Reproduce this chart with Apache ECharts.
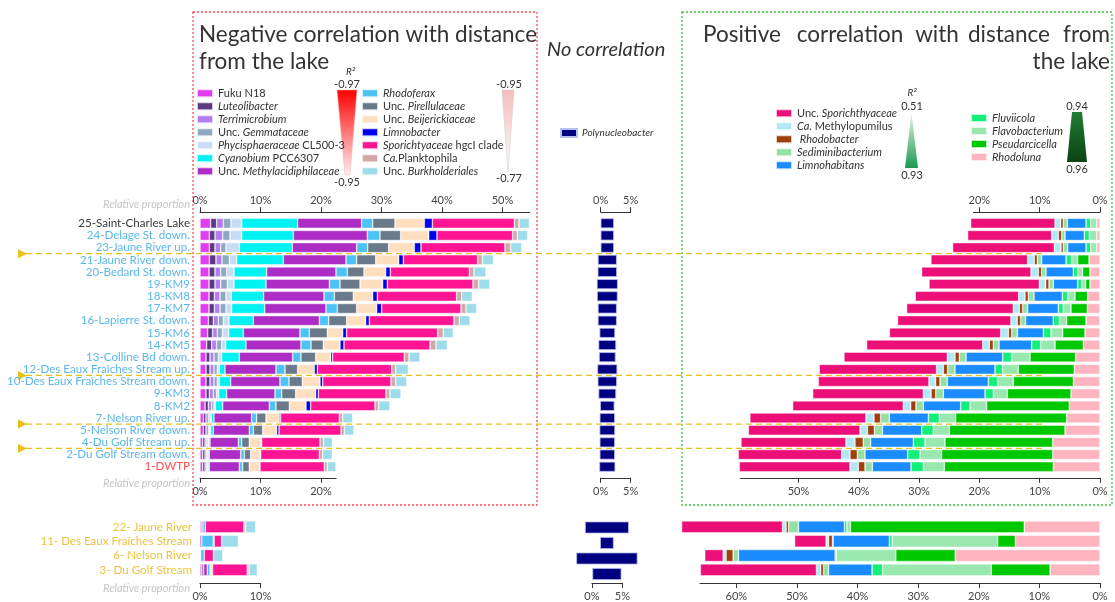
<!DOCTYPE html>
<html><head><meta charset="utf-8">
<script src="https://cdn.jsdelivr.net/npm/echarts@6/dist/echarts.min.js"></script>
<style>html,body{margin:0;padding:0;background:#fff}#c{width:1115px;height:602px}</style>
</head><body><div id="c"></div>
<script>
// ---------------- DATA ----------------
const mainSites = ['25-Saint-Charles Lake','24-Delage St. down.','23-Jaune River up.','21-Jaune River down.','20-Bedard St. down.','19-KM9','18-KM8','17-KM7','16-Lapierre St. down.','15-KM6','14-KM5','13-Colline Bd down.','12-Des Eaux Fraîches Stream up.','10-Des Eaux Fraîches Stream down.','9-KM3','8-KM2','7-Nelson River up.','5-Nelson River down.','4-Du Golf Stream up.','2-Du Golf Stream down.','1-DWTP'];
const tribSites = ['22- Jaune River','11- Des Eaux Fraîches Stream','6- Nelson River','3- Du Golf Stream'];

// negative correlation taxa (main sites, then tributaries)
const fukuN18 = [1.76,1.54,1.54,1.54,1.49,1.49,1.49,1.49,1.38,1.27,1.10,0.99,0.99,0.99,0.99,0.83,0.55,0.55,0.44,0.44,0.44];
const fukuN18Trib = [0.2,0,0,0.3];
const luteolibacter = [0.99,0.94,0.94,1.10,0.99,0.99,0.88,0.88,0.82,0.82,0.83,0.66,0.66,0.66,0.55,0.55,0.44,0.44,0.39,0.39,0.39];
const luteolibacterTrib = [0,0,0,0.3];
const terrimicrobium = [1.11,1.27,0.94,1.00,0.94,0.94,0.94,0.94,0.83,0.77,0.82,0.66,0.66,0.66,0.66,0.55,0.39,0.39,0.27,0.27,0.27];
const terrimicrobiumTrib = [0,0,0,0];
const gemmataceae = [1.26,1.21,0.88,1.21,0.99,1.10,0.99,0.99,0.83,0.83,0.83,0.72,0.55,0.55,0.55,0.38,0.27,0.16,0.22,0.17,0.17];
const gemmataceaeTrib = [0,0,0,0];
const cl5003 = [1.77,1.93,2.20,1.21,1.21,1.10,0.88,0.93,0.93,1.05,0.66,0.55,0.34,0.34,0.34,0.22,0.22,0.22,0.11,0.11,0.11];
const cl5003Trib = [0,0,0,0];
const cyanobium = [9.25,8.54,8.76,7.71,5.40,5.29,5.34,5.46,4.03,2.42,3.36,2.92,0.93,1.87,1.32,1.22,0.44,0.44,0.22,0.16,0.16];
const cyanobiumTrib = [0,0,0,0];
const methylacidiphilaceae = [10.58,12.23,10.64,10.36,11.46,10.47,9.98,10.14,10.91,9.37,9.09,8.82,8.43,8.15,7.99,7.71,6.23,5.95,4.69,5.18,4.96];
const methylacidiphilaceaeTrib = [0.27,0.3,0.1,0.6];
const rhodoferax = [1.82,2.09,1.81,1.77,1.87,1.76,1.70,1.87,1.54,1.54,1.66,1.37,1.49,1.49,1.10,1.10,0.83,0.67,0.55,0.61,0.55];
const rhodoferaxTrib = [0.41,1.89,0.6,0.47];
const pirellulaceae = [3.69,3.42,3.47,3.14,2.76,3.31,3.14,3.20,2.97,2.98,2.04,2.43,2.09,2.20,2.31,2.21,1.54,1.54,1.26,1.04,1.10];
const pirellulaceaeTrib = [0,0.15,0,0];
const beijerickiaceae = [4.85,4.63,4.25,3.80,3.58,3.74,3.20,3.30,3.14,2.53,2.75,2.48,2.76,2.92,3.31,2.75,2.20,2.31,1.93,1.55,1.66];
const beijerickiaceaeTrib = [0,0,0,0.41];
const limnobacter = [1.32,1.37,1.10,0.77,0.77,0.77,0.77,0.83,0.61,0.66,0.66,0.33,0.49,0.45,0.44,0.77,0.22,0.39,0.11,0.11,0.11];
const limnobacterTrib = [0,0,0,0];
const hgcI = [13.56,12.51,13.88,12.29,13.06,14.16,13.11,13.11,13.99,15.04,14.22,11.84,12.29,11.29,11.18,10.64,9.70,10.25,9.64,9.69,10.63];
const hgcITrib = [6.38,1.24,1.53,5.73];
const planktophila = [0.77,0.77,0.94,0.77,0.77,0.94,0.83,0.83,0.89,0.94,0.99,0.78,0.66,0.77,0.66,0.60,0.55,0.55,0.56,0.56,0.50];
const planktophilaTrib = [0.3,0,0,0.3];
const burkholderiales = [1.71,1.71,1.82,1.81,1.98,1.87,1.76,1.76,1.76,1.65,1.87,1.81,2.10,1.82,1.82,1.87,1.65,1.59,1.48,1.59,1.43];
const burkholderialesTrib = [1.65,2.77,1.53,1.36];

// no correlation
const polynucleobacter = [2.22,2.22,2.22,3.17,3.22,3.5,3.45,3.17,3.17,2.6,2.95,2.78,3.33,3.22,2.95,2.39,2.55,2.6,2.55,2.55,2.67];
const polynucleobacterTrib = [7.2,2.24,10.05,4.77];

// positive correlation taxa
const rhodoluna = [0.55,0.55,0.55,1.82,1.66,1.66,2.05,2.10,2.32,2.49,2.76,4.04,4.26,4.42,4.81,5.09,5.53,5.80,7.85,7.85,7.74];
const rhodolunaTrib = [12.5,13.96,23.89,8.24];
const pseudarcicella = [0,0,0,1.88,1.22,0.72,2.10,2.71,3.21,3.70,4.70,7.57,9.29,9.95,10.56,13.71,18.41,19.18,17.86,18.41,18.08];
const pseudarcicellaTrib = [28.68,2.92,9.81,9.70];
const flavobacterium = [1.0,1.22,1.0,1.0,0.83,0.66,1.22,1.27,1.22,1.93,2.38,3.04,2.60,2.60,2.32,2.76,2.71,2.65,3.32,3.59,3.48];
const flavobacteriumTrib = [0.58,17.41,9.81,17.93];
const fluviicola = [0.77,0.83,0.77,0.94,0.72,0.66,0.88,0.83,1.0,1.27,1.49,1.49,1.27,1.55,1.38,1.55,1.82,1.93,1.93,2.05,2.05];
const fluviicolaTrib = [0.41,0.47,0.2,1.75];
const limnohabitans = [3.10,3.21,3.04,4.04,4.53,4.04,4.70,5.09,4.59,4.31,5.42,6.08,6.63,6.80,6.91,6.19,6.47,6.52,7.08,7.08,6.41];
const limnohabitansTrib = [7.59,9.29,15.95,7.18];
const sediminibacterium = [0.66,0.55,0.72,0.72,0.72,0.72,0.94,0.83,0.83,0.94,0.94,1.11,1.22,1.22,1.27,1.22,1.44,1.33,1.22,1.27,1.22];
const sediminibacteriumTrib = [1.64,0.1,0.88,0.82];
const rhodobacter = [0.44,0.55,0.39,0.5,0.55,0.55,0.55,0.55,0.55,0.55,0.66,0.72,0.72,0.72,0.77,0.88,1.11,1.16,1.38,1.22,1.11];
const rhodobacterTrib = [0.41,0.64,1.17,0.47];
const methylopumilus = [0.94,1.11,1.11,1.11,1.22,1.05,1.05,1.0,1.05,1.27,1.11,1.27,1.11,1.11,1.27,1.22,1.33,1.22,1.49,1.38,1.38];
const methylopumilusTrib = [0.58,0.41,0.47,0.7];
const sporichthyaceae = [13.99,13.93,16.86,16.03,18.13,18.30,17.14,17.69,18.80,18.46,19.24,17.14,19.46,18.35,18.35,18.35,19.24,18.52,17.41,17.14,18.35];
const sporichthyaceaeTrib = [16.65,5.2,3.04,19.16];

// ---------------- TAXA LISTS ----------------
const negNames = ['Fuku N18','Luteolibacter','Terrimicrobium','Unc. Gemmataceae','Phycisphaeraceae CL500-3','Cyanobium PCC6307','Unc. Methylacidiphilaceae','Rhodoferax','Unc. Pirellulaceae','Unc. Beijerickiaceae','Limnobacter','Sporichtyaceae hgcI clade','Ca.Planktophila','Unc. Burkholderiales'];
const negMain = [fukuN18,luteolibacter,terrimicrobium,gemmataceae,cl5003,cyanobium,methylacidiphilaceae,rhodoferax,pirellulaceae,beijerickiaceae,limnobacter,hgcI,planktophila,burkholderiales];
const negTrib = [fukuN18Trib,luteolibacterTrib,terrimicrobiumTrib,gemmataceaeTrib,cl5003Trib,cyanobiumTrib,methylacidiphilaceaeTrib,rhodoferaxTrib,pirellulaceaeTrib,beijerickiaceaeTrib,limnobacterTrib,hgcITrib,planktophilaTrib,burkholderialesTrib];
const negColors = ['#e03cf0','#5a3a80','#b27cf2','#8fa8c2','#c8dcf4','#00f2f2','#ad2cc6','#4cc3f5','#6a7a8a','#ffdfc0','#0000ee','#ff1493','#d2a8a6','#9ddcea'];

// stacking order from 0% outward
const posNames = ['Rhodoluna','Pseudarcicella','Flavobacterium','Fluviicola','Limnohabitans','Sediminibacterium','Rhodobacter','Ca. Methylopumilus','Unc. Sporichthyaceae'];
const posMain = [rhodoluna,pseudarcicella,flavobacterium,fluviicola,limnohabitans,sediminibacterium,rhodobacter,methylopumilus,sporichthyaceae];
const posTrib = [rhodolunaTrib,pseudarcicellaTrib,flavobacteriumTrib,fluviicolaTrib,limnohabitansTrib,sediminibacteriumTrib,rhodobacterTrib,methylopumilusTrib,sporichthyaceaeTrib];
const posColors = ['#ffb5c0','#00c800','#98e8b0','#14ef7a','#1a8cff','#94e0a4','#a03e0c','#b0e8f6','#ec0f78'];

const legendLabels = {
  'Luteolibacter':'{i|Luteolibacter}','Terrimicrobium':'{i|Terrimicrobium}','Unc. Gemmataceae':'Unc. {i|Gemmataceae}',
  'Phycisphaeraceae CL500-3':'{i|Phycisphaeraceae} CL500-3','Cyanobium PCC6307':'{i|Cyanobium} PCC6307',
  'Unc. Methylacidiphilaceae':'Unc. {i|Methylacidiphilaceae}','Rhodoferax':'{i|Rhodoferax}','Unc. Pirellulaceae':'Unc. {i|Pirellulaceae}',
  'Unc. Beijerickiaceae':'Unc. {i|Beijerickiaceae}','Limnobacter':'{i|Limnobacter}','Sporichtyaceae hgcI clade':'{i|Sporichtyaceae} hgcI clade',
  'Ca.Planktophila':'{i|Ca.}Planktophila','Unc. Burkholderiales':'Unc. {i|Burkholderiales}','Polynucleobacter':'{i|Polynucleobacter}',
  'Unc. Sporichthyaceae':'Unc. {i|Sporichthyaceae}','Ca. Methylopumilus':'{i|Ca.} Methylopumilus','Rhodobacter':' {i|Rhodobacter}',
  'Sediminibacterium':'{i|Sediminibacterium}','Limnohabitans':'{i|Limnohabitans}','Fluviicola':'{i|Fluviicola}',
  'Flavobacterium':'{i|Flavobacterium}','Pseudarcicella':'{i|Pseudarcicella}','Rhodoluna':'{i|Rhodoluna}'
};

// ---------------- LAYOUT ----------------
const FONT = 'Lato';
const PXL = 6.05, PXM = 6.0, PXR = 6.03, PXBM = 6.1, PXBR = 6.06;
const MT = 217.2, MH = 255.6, BT = 519.75, BH = 62;
const g = (left, top, width, height) => ({left, top, width, height, containLabel:false});
const grids = [
  g(200, MT, 54.5*PXL, MH),
  g(200, MT, 22.5*PXL, MH),
  g(607.3-5*PXM, MT, 10*PXM, MH),
  g(600.7, MT, 5*PXM, MH),
  g(1100-59.6*PXR, MT, 59.6*PXR, MH),
  g(1100-21*PXR, MT, 21*PXR, MH),
  g(200, BT, 10*PXL, BH),
  g(606.9-6*PXBM, BT, 12*PXBM, BH),
  g(591.9, BT, 5*PXBM, BH),
  g(1100-66*PXBR, BT, 66*PXBR, BH)
];
const aLine = {show:true, onZero:false, lineStyle:{color:'#333', width:1}};
const aTick = {show:true, length:5, lineStyle:{color:'#333'}};
const aLabel = (m, showMax) => ({fontFamily:FONT, fontSize:11, color:'#444', margin:m, formatter:'{value}%', showMaxLabel:showMax, showMinLabel:true});
const vx = (gi, pos, min, max, interval, inverse, offset, showMax) => ({
  gridIndex:gi, type:'value', position:pos, offset:offset, min, max, interval, inverse:!!inverse,
  axisLine:aLine, axisTick:aTick, axisLabel:aLabel(pos==='top'?6:8, showMax), splitLine:{show:false}
});
const hx = (gi, min, max, inverse) => ({gridIndex:gi, type:'value', min, max, inverse:!!inverse, show:false});
const xAxes = [
  vx(0,'top',0,54.5,10,false,5,false),
  vx(1,'bottom',0,22.5,10,false,5,false),
  hx(2,-5,5),
  vx(3,'top',0,5,5,false,5,true),
  vx(3,'bottom',0,5,5,false,5,true),
  vx(4,'bottom',0,59.6,10,true,5,false),
  vx(5,'top',0,21,10,true,5,false),
  vx(6,'bottom',0,10,10,false,6,true),
  hx(7,-6,6),
  vx(8,'bottom',0,5,5,false,6,true),
  vx(9,'bottom',0,66,10,true,6,false)
];
const hy = (gi, data) => ({gridIndex:gi, type:'category', data, inverse:true, show:false});
const yAxes = [
  {gridIndex:0, type:'category', data:mainSites, inverse:true, axisLine:{show:false}, axisTick:{show:false},
   axisLabel:{interval:0, fontFamily:FONT, fontSize:11.6, margin:10,
     color:(v,i)=> i===0 ? '#3a3a3a' : (i===mainSites.length-1 ? '#ff4f4f' : '#5cb8ec')}},
  hy(1,mainSites), hy(2,mainSites), hy(3,mainSites), hy(4,mainSites), hy(5,mainSites),
  {gridIndex:6, type:'category', data:tribSites, inverse:true, axisLine:{show:false}, axisTick:{show:false},
   axisLabel:{interval:0, fontFamily:FONT, fontSize:11.6, margin:8, color:'#e9c53e'}},
  hy(7,tribSites), hy(8,tribSites), hy(9,tribSites)
];

const nz = v => (v === 0 ? null : v);
const series = [];
const bStyle = (c) => ({color:c, borderColor:'rgba(255,255,255,0.75)', borderWidth:0.6});
negNames.forEach((n,i) => {
  series.push({type:'bar', name:n, xAxisIndex:0, yAxisIndex:0, stack:'negMain', barWidth:10, data:negMain[i].map(nz), itemStyle:bStyle(negColors[i])});
  series.push({type:'bar', name:n, xAxisIndex:7, yAxisIndex:6, stack:'negTrib', barWidth:12, data:negTrib[i].map(nz), itemStyle:bStyle(negColors[i])});
});
posNames.forEach((n,i) => {
  series.push({type:'bar', name:n, xAxisIndex:5, yAxisIndex:4, stack:'posMain', barWidth:10, clip:false, data:posMain[i].map(nz), itemStyle:bStyle(posColors[i])});
  series.push({type:'bar', name:n, xAxisIndex:10, yAxisIndex:9, stack:'posTrib', barWidth:12, clip:false, data:posTrib[i].map(nz), itemStyle:bStyle(posColors[i])});
});
const polyStyle = {color:'#000080', borderColor:'#b8c0ee', borderWidth:0.8};
[[polynucleobacter,2,2,10,'polyM'],[polynucleobacterTrib,8,7,12,'polyT']].forEach(([d,xi,yi,bw,st]) => {
  series.push({type:'bar', name:'_base_'+st, xAxisIndex:xi, yAxisIndex:yi, stack:st, stackStrategy:'all', barWidth:bw, silent:true,
    data:d.map(v => -v/2), itemStyle:{color:'rgba(0,0,0,0)'}});
  series.push({type:'bar', name:'Polynucleobacter', xAxisIndex:xi, yAxisIndex:yi, stack:st, stackStrategy:'all', barWidth:bw,
    data:d, itemStyle:polyStyle});
});

const legBase = (data, left, top) => ({
  data, left, top, orient:'vertical', itemWidth:16, itemHeight:8, itemGap:0, padding:0, icon:'rect', selectedMode:false,
  formatter: n => legendLabels[n] || n,
  textStyle:{fontFamily:FONT, fontSize:11, color:'#333', lineHeight:13,
    rich:{i:{fontStyle:'italic', fontFamily:FONT, fontSize:11, color:'#333', lineHeight:13}}}
});
const legends = [
  legBase(negNames.slice(0,7), 196, 86.8),
  legBase(negNames.slice(7), 361, 86.8),
  legBase(['Polynucleobacter'], 560, 126.5),
  legBase(['Unc. Sporichthyaceae','Ca. Methylopumilus','Rhodobacter','Sediminibacterium','Limnohabitans'], 775, 106.8),
  legBase(['Fluviicola','Flavobacterium','Pseudarcicella','Rhodoluna'], 970, 111.5)
];
legends[2].textStyle.fontSize = 10; legends[2].textStyle.rich.i.fontSize = 10;

const LG = echarts.graphic.LinearGradient;
const TF = '22.5px Lato';
const txt = (text, x, y, font, fill, align) => ({type:'text', silent:true, style:{text, x, y, font, fill:fill||'#333', textAlign:align||'left', textVerticalAlign:'middle'}});
const graphics = [
  {type:'rect', silent:true, shape:{x:193,y:12,width:344,height:493}, style:{fill:'none', stroke:'#ff4a4a', lineWidth:1.3, lineDash:[2,2]}},
  {type:'rect', silent:true, shape:{x:682,y:12,width:430,height:493}, style:{fill:'none', stroke:'#3cc43c', lineWidth:1.3, lineDash:[2,2]}},
  txt('Negative correlation with distance', 199, 35, TF),
  txt('from the lake', 199, 62, TF),
  txt('No correlation', 547, 50, 'italic 20px Lato'),
  txt('Positive', 703, 35, TF, '#333', 'left'),
  txt('correlation', 850, 35, TF, '#333', 'center'),
  txt('with', 937, 35, TF, '#333', 'center'),
  txt('distance', 1009, 35, TF, '#333', 'center'),
  txt('from', 1110, 35, TF, '#333', 'right'),
  txt('the lake', 1110, 62, TF, '#333', 'right'),
  // R2 scales
  {type:'polygon', silent:true, shape:{points:[[337,90],[357,90],[350,175],[345,175]]}, style:{fill:new LG(0,0,0,1,[{offset:0,color:'#ff0000'},{offset:1,color:'#fff0f0'}]), stroke:'#f3b0b0', lineWidth:0.5}},
  txt('R²', 346, 72, 'italic 10px Lato'), txt('-0.97', 347, 84, '11px Lato', '#333', 'center'), txt('-0.95', 347, 182, '11px Lato', '#333', 'center'),
  {type:'polygon', silent:true, shape:{points:[[502,90],[514,90],[508,172]]}, style:{fill:new LG(0,0,0,1,[{offset:0,color:'#f6bcbc'},{offset:1,color:'#ffffff'}]), stroke:'#c8c8c8', lineWidth:0.5}},
  txt('-0.95', 509, 84, '11px Lato', '#333', 'center'), txt('-0.77', 509, 178, '11px Lato', '#333', 'center'),
  {type:'polygon', silent:true, shape:{points:[[911.5,113],[918,168],[905,168]]}, style:{fill:new LG(0,0,0,1,[{offset:0,color:'#dff5e6'},{offset:1,color:'#1c9a4e'}])}},
  txt('R²', 912, 93, 'italic 10px Lato', '#333', 'center'), txt('0.51', 912, 106, '11px Lato', '#333', 'center'), txt('0.93', 912, 175, '11px Lato', '#333', 'center'),
  {type:'polygon', silent:true, shape:{points:[[1072,112],[1082,112],[1087,162],[1067,162]]}, style:{fill:new LG(0,0,0,1,[{offset:0,color:'#1f7d32'},{offset:1,color:'#0b4313'}])}},
  txt('0.94', 1077, 106, '11px Lato', '#333', 'center'), txt('0.96', 1077, 169, '11px Lato', '#333', 'center'),
  txt('Relative proportion', 190, 204, 'italic 11px Lato', '#c4c4c4', 'right'),
  txt('Relative proportion', 190, 483, 'italic 11px Lato', '#c4c4c4', 'right'),
  txt('Relative proportion', 190, 588, 'italic 11px Lato', '#c4c4c4', 'right')
];

const chart = echarts.init(document.getElementById('c'), null, {renderer:'canvas'});
chart.setOption({
  animation:false, backgroundColor:'#fff', textStyle:{fontFamily:FONT},
  grid:grids, xAxis:xAxes, yAxis:yAxes, legend:legends, series, graphic:graphics
});
// dashed separator lines between groups of sites
const sepPairs = [[2,3],[12,13],[16,17],[18,19]];
sepPairs.forEach(([a,b]) => {
  const ya = chart.convertToPixel({yAxisIndex:0}, mainSites[a]);
  const yb = chart.convertToPixel({yAxisIndex:0}, mainSites[b]);
  const y = (ya + yb) / 2;
  graphics.push({type:'line', silent:true, z:1, shape:{x1:26,y1:y,x2:1043,y2:y}, style:{stroke:'#e8c21c', lineWidth:1.3, lineDash:[6,4]}});
  graphics.push({type:'polygon', silent:true, shape:{points:[[18,y-4.5],[27,y],[18,y+4.5]]}, style:{fill:'#e8c21c'}});
});
chart.setOption({graphic:graphics});
</script></body></html>
